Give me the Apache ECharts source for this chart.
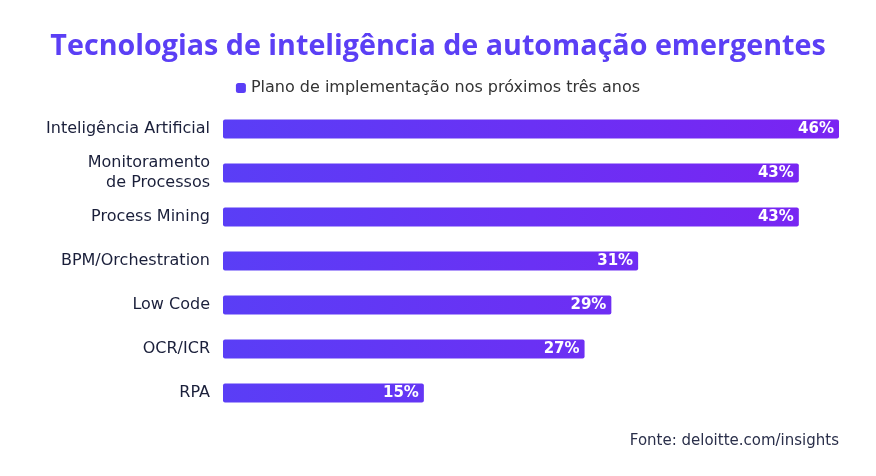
<!DOCTYPE html>
<html><head><meta charset="utf-8">
<script src="https://cdn.jsdelivr.net/npm/echarts@6/dist/echarts.min.js"></script>
<style>html,body{margin:0;padding:0;background:#fff}#c{width:876px;height:476px}</style>
</head><body><div id="c"></div>
<script>
const categories = ["Inteligência Artificial","Monitoramento\nde Processos","Process Mining","BPM/Orchestration","Low Code","OCR/ICR","RPA"];
const values = [46,43,43,31,29,27,15];
const seriesName = "Plano de implementação nos próximos três anos";
const titleText = "Tecnologias de inteligência de automação emergentes";
const sourceText = "Fonte: deloitte.com/insights";

const F = 'DejaVu Sans';
const chart = echarts.init(document.getElementById('c'));
chart.setOption({
  backgroundColor:'#fff',
  animation:false,
  title:[{text:titleText,left:'center',top:32,padding:0,textStyle:{fontFamily:'Open Sans',fontWeight:'bold',fontSize:28.7,color:'#5b3ff5'}},
         {text:sourceText,right:37,top:434,padding:0,textStyle:{fontFamily:F,fontWeight:'normal',fontSize:15,color:'#2a2f4a'}}],
  legend:{top:75,left:'center',icon:'roundRect',itemWidth:10,itemHeight:10,itemGap:6,
    textStyle:{fontFamily:F,fontSize:16,color:'#333'},data:[seriesName]},
  grid:{left:223,right:37,top:107,bottom:61},
  xAxis:{type:'value',min:0,max:46,show:false},
  yAxis:{type:'category',data:categories,inverse:true,axisLine:{show:false},axisTick:{show:false},
    axisLabel:{fontFamily:F,fontSize:16,color:'#1a1f3a',margin:13,lineHeight:20,align:'right'}},
  series:[{name:seriesName,type:'bar',data:values,barWidth:19,
    itemStyle:{borderRadius:2,color:new echarts.graphic.LinearGradient(223,0,839,0,[{offset:0,color:'#5a3ef6'},{offset:1,color:'#7a24f2'}],true)},
    label:{show:true,position:'insideRight',formatter:'{c}%',color:'#fff',fontFamily:F,fontWeight:'bold',fontSize:15,distance:5}}]
});
</script></body></html>
